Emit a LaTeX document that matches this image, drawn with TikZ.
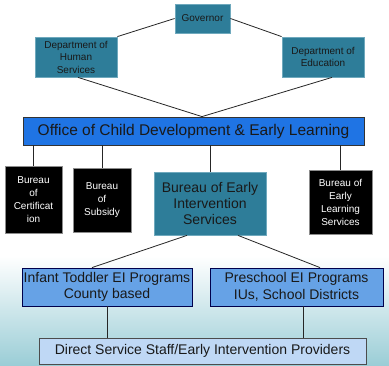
\documentclass[tikz,border=0pt]{standalone}
\usepackage{fontspec}
\setmainfont{Liberation Sans}
\usetikzlibrary{calc}
\definecolor{tealbox}{HTML}{2E7D99}
\definecolor{tealedge}{HTML}{6FA9BD}
\definecolor{officeblue}{HTML}{1F74E4}
\definecolor{progblue}{HTML}{66A2E6}
\definecolor{staffblue}{HTML}{BFD8F5}
\definecolor{swoosh}{HTML}{9ACDD6}
\begin{document}
\begin{tikzpicture}[x=1pt,y=1pt,
  box/.style={draw, line width=0.8pt, inner sep=1pt, align=center, text=black!90},
  agency/.style={box, fill=tealbox, draw=tealedge, font=\fontsize{10}{12.5}\selectfont},
  office/.style={box, fill=officeblue, draw=black!80, font=\fontsize{15.5}{18}\selectfont},
  bureau/.style={box, fill=black, draw=black!45, text=white, font=\fontsize{10}{13}\selectfont},
  einode/.style={box, fill=tealbox, draw=tealedge, font=\fontsize{14}{16.3}\selectfont},
  program/.style={box, fill=progblue, draw=black!70!blue, font=\fontsize{14}{16.7}\selectfont},
  staff/.style={box, fill=staffblue, draw=black!70, font=\fontsize{14}{16}\selectfont},
  link/.style={draw=black!85, line width=0.8pt}]
  % slide background with a pale teal sweep along the bottom
  \fill[white] (0,0) rectangle (389,366);
  \shade[top color=white, bottom color=swoosh] (0,0) rectangle (389,110);
  \useasboundingbox (0,0) rectangle (389,366);

  % state level
  \node[agency, minimum width=55, minimum height=29] (gov) at (202.5,347.5) {Governor};
  \node[agency, minimum width=82, minimum height=40] (dhs) at (76,309) {Department of\\Human\\Services};
  \node[agency, minimum width=82, minimum height=40] (doe) at (323,309) {Department of\\Education};

  % office
  \node[office, minimum width=341, minimum height=28] (ocdel) at (193.5,235) {Office of Child Development \& Early Learning};
  \coordinate (join) at ($(ocdel.north)+(8.5,0)$);

  % bureaus
  \node[bureau, minimum width=57, minimum height=67] (bcert) at (33.5,166.5) {Bureau\\of\\Certificat\\ion};
  \node[bureau, minimum width=58, minimum height=64] (bsub) at (102,166) {Bureau\\of\\Subsidy};
  \node[einode, minimum width=112, minimum height=63] (beis) at (210,162.5) {Bureau of Early\\Intervention\\Services};
  \node[bureau, minimum width=63, minimum height=64] (bels) at (340.5,164) {Bureau of\\Early\\Learning\\Services};

  % programs
  \node[program, minimum width=170, minimum height=38] (infant) at (107,79) {Infant Toddler EI Programs\\County based};
  \node[program, minimum width=173, minimum height=38] (pre) at (296.5,79) {Preschool EI Programs\\IUs, School Districts};

  % providers
  \node[staff, minimum width=327, minimum height=26] (direct) at (202.5,15) {Direct Service Staff/Early Intervention Providers};

  % connectors
  \draw[link] (gov.west) -- (dhs.north east);
  \draw[link] (gov.east) -- (doe.north west);
  \draw[link] ($(dhs.south)+(2,0)$) -- (join);
  \draw[link] ($(doe.south)+(9,0)$) -- (join);
  \foreach \b in {bcert,bsub,beis,bels}
    \draw[link] (\b.north |- ocdel.south) -- (\b.north);
  \draw[link] ($(beis.south)+(-23,0)$) -- ($(infant.north)+(-15,0)$);
  \draw[link] ($(beis.south)+(28,0)$) -- ($(pre.north)+(23.5,0)$);
  \draw[link] (infant.south) -- (infant.south |- direct.north);
  \draw[link] ($(pre.south)+(6.5,0)$) coordinate (pdrop) -- (pdrop |- direct.north);
\end{tikzpicture}
\end{document}
